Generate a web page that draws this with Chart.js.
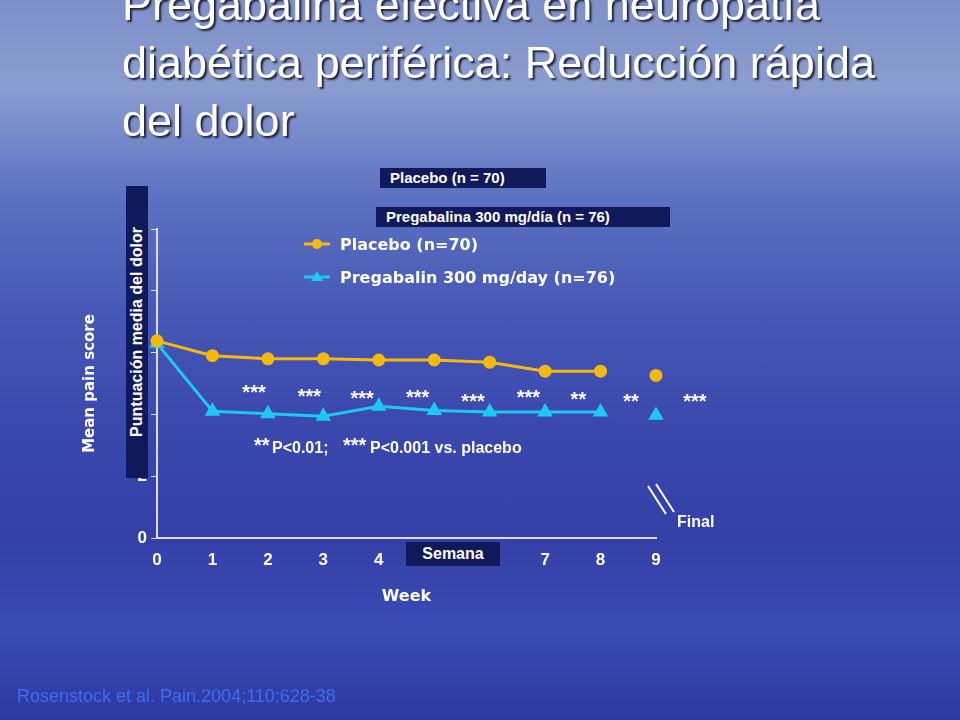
<!DOCTYPE html>
<html><head><meta charset="utf-8">
<script src="https://cdn.jsdelivr.net/npm/chart.js@4"></script>
<style>
html,body{margin:0;padding:0;width:960px;height:720px;overflow:hidden;font-family:"Liberation Sans",Arial,sans-serif;}
body{background:linear-gradient(180deg,#7d90c8 0%,#8b9dd0 12%,#5b70c0 28%,#4556b5 45%,#3a47ad 60%,#3440a8 75%,#3a4cb4 88%,#2e38a0 100%);position:relative;}
#wrap{position:absolute;left:0;top:0;width:960px;height:720px;}
.t{position:absolute;left:122px;top:-24px;color:#fff;font-size:45px;line-height:58px;text-shadow:2px 2px 2px #223;}
.box{position:absolute;background:#101a5a;color:#fff;font-weight:bold;font-size:15px;line-height:20px;white-space:nowrap;}
.cite{position:absolute;left:17px;top:686px;color:#3a6df0;font-size:18px;}
</style></head><body>
<div id="wrap"><canvas id="c" width="960" height="720"></canvas></div>
<div class="t">Pregabalina efectiva en neuropatía<br>diabética periférica: Reducción rápida<br>del dolor</div>
<div class="box" style="left:380px;top:168px;width:156px;padding-left:10px;">Placebo (n = 70)</div>
<div class="box" style="left:376px;top:207px;width:284px;padding-left:10px;">Pregabalina 300 mg/día (n = 76)</div>
<div class="box" style="left:126px;top:186px;width:22px;height:292px;"><div style="position:absolute;left:-135px;top:136px;width:292px;transform:rotate(-90deg);text-align:center;font-size:16px;">Puntuación media del dolor</div></div>
<div class="box" style="left:406px;top:542px;width:94px;height:24px;text-align:center;font-size:16px;line-height:24px;">Semana</div>
<div class="cite">Rosenstock et al. Pain.2004;110:628-38</div>
<script>
const weeks=[0,1,2,3,4,5,6,7,8,9];
const placebo=[6.38,5.9,5.8,5.8,5.76,5.76,5.69,5.4,5.4,5.26];
const pregabalin=[6.3,4.1,4.02,3.94,4.26,4.13,4.08,4.08,4.08,3.97];
const yTicks=[0,2,4,6,8,10];
const stars=[[1.75,'***'],[2.75,'***'],[3.7,'***'],[4.7,'***'],[5.7,'***'],[6.7,'***'],[7.6,'**'],[8.55,'**'],[9.7,'***']];
const starY=[4.5,4.38,4.3,4.33,4.22,4.33,4.27,4.22,4.22];
const pts=a=>a.map((v,i)=>({x:weeks[i],y:v}));
const seg={borderColor:c=>c.p1DataIndex===9?'transparent':undefined};
const extra={id:'extra',afterDraw(ch){
 const g=ch.ctx,xs=ch.scales.x,ys=ch.scales.y;g.save();
 g.fillStyle='#fff';g.font='bold 20px "Liberation Sans",Arial';g.textAlign='center';
 stars.forEach((s,i)=>g.fillText(s[1],xs.getPixelForValue(s[0]),ys.getPixelForValue(starY[i])));
 g.textAlign='left';
 g.font='bold 20px "Liberation Sans",Arial';g.fillText('**',254,452);
 g.font='bold 16px "Liberation Sans",Arial';g.fillText('P<0.01;',272,453);
 g.font='bold 20px "Liberation Sans",Arial';g.fillText('***',343,452);
 g.font='bold 16px "Liberation Sans",Arial';g.fillText('P<0.001 vs. placebo',370,453);
 g.fillText('Final',677,527);
 g.strokeStyle='#fff';g.lineWidth=2;g.beginPath();g.moveTo(648,486);g.lineTo(666,514);g.moveTo(656,484);g.lineTo(674,512);g.stroke();
 const L=[['Placebo (n=70)','#f6b80a','circle',244],['Pregabalin 300 mg/day (n=76)','#1ec8f2','triangle',277]];
 g.font='bold 16px "DejaVu Sans",Verdana';
 L.forEach(l=>{g.strokeStyle=l[1];g.fillStyle=l[1];g.lineWidth=3;g.beginPath();g.moveTo(304,l[3]);g.lineTo(330,l[3]);g.stroke();
  g.beginPath();if(l[2]==='circle'){g.arc(317,l[3],5,0,7);}else{g.moveTo(317,l[3]-6);g.lineTo(323,l[3]+4);g.lineTo(311,l[3]+4);g.closePath();}g.fill();
  g.fillStyle='#fff';g.fillText(l[0],340,l[3]+6);});
 g.restore();}};
new Chart(document.getElementById('c'),{type:'line',
 data:{datasets:[
  {label:'Placebo (n=70)',data:pts(placebo),borderColor:'#f6b80a',backgroundColor:'#f6b80a',borderWidth:3,pointRadius:5,pointStyle:'circle',segment:seg,clip:false},
  {label:'Pregabalin 300 mg/day (n=76)',data:pts(pregabalin),borderColor:'#1ec8f2',backgroundColor:'#1ec8f2',borderWidth:3,pointRadius:6,pointStyle:'triangle',segment:seg,clip:false}]},
 options:{responsive:false,animation:false,layout:{padding:{left:77,right:304,top:229,bottom:110}},
  plugins:{legend:{display:false},tooltip:{enabled:false}},
  scales:{
   x:{type:'linear',min:0,max:9,afterFit:s=>{s.height=72;},afterBuildTicks:s=>{s.ticks=weeks.map(v=>({value:v}));},
    grid:{display:false,drawOnChartArea:false,tickLength:6,color:'#ddd'},border:{color:'#ddd',width:2},
    ticks:{color:'#fff',font:{weight:'bold',size:17,family:'"Liberation Sans",Arial'},padding:6,autoSkip:false},
    title:{display:true,text:'Week',color:'#fff',font:{weight:'bold',size:16,family:'"DejaVu Sans",Verdana'},padding:{top:8}}},
   y:{min:0,max:10,afterFit:s=>{s.width=80;},afterBuildTicks:s=>{s.ticks=yTicks.map(v=>({value:v}));},
    grid:{drawOnChartArea:false,tickLength:6,color:'#ddd'},border:{color:'#ddd',width:2},
    ticks:{color:'#fff',font:{weight:'bold',size:17,family:'"Liberation Sans",Arial'},padding:4},
    title:{display:true,text:'Mean pain score',color:'#fff',font:{weight:'bold',size:15,family:'"DejaVu Sans",Verdana'}}}}},
 plugins:[extra]});
</script></body></html>
